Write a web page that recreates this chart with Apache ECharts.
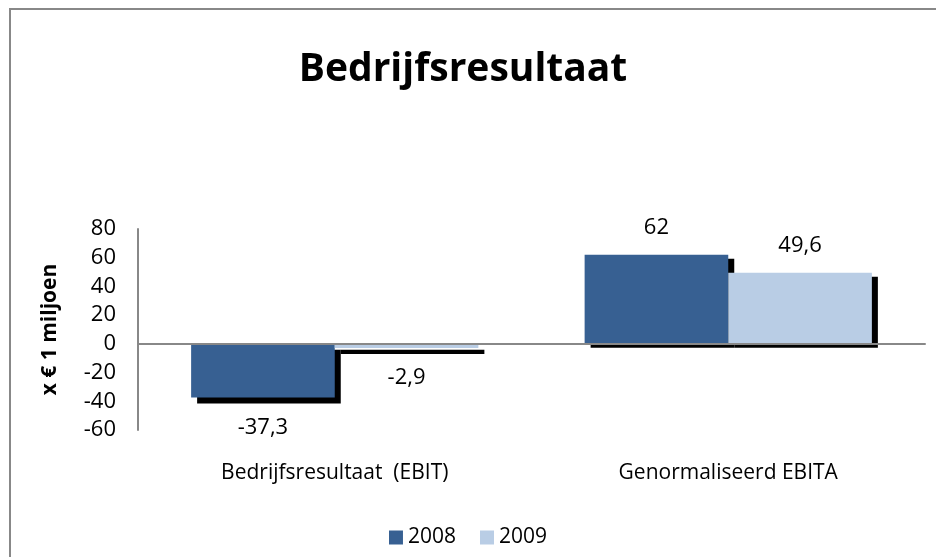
<!DOCTYPE html>
<html>
<head>
<meta charset="utf-8">
<script src="https://cdn.jsdelivr.net/npm/echarts@6/dist/echarts.min.js"></script>
<style>
  html, body { margin: 0; padding: 0; background: #fff; }
  #chart { width: 936px; height: 557px; }
</style>
</head>
<body>
<div id="chart"></div>
<script>
var categories = ['Bedrijfsresultaat  (EBIT)', 'Genormaliseerd EBITA'];
var values2008 = [-37.3, 62];
var values2009 = [-2.9, 49.6];
var yTicks = { min: -60, max: 80, interval: 20 };

var fontName = 'Open Sans';

function commaLabel(p) {
    return String(p.value).replace('.', ',');
}

// negative bars get their label underneath
function toData(arr) {
    return arr.map(function(v) {
        return {
            value: v,
            label: { position: v < 0 ? 'bottom' : 'top', distance: v < 0 ? 19 : 16 },
            itemStyle: { shadowOffsetY: v < 0 ? 6 : 4 }
        };
    });
}

function barSeries(name, arr, color) {
    return {
        name: name,
        type: 'bar',
        barWidth: '36.5%',
        barGap: '0%',
        data: toData(arr),
        itemStyle: {
            color: color,
            shadowColor: '#000',
            shadowBlur: 0,
            shadowOffsetX: 6
        },
        label: {
            show: true,
            color: '#000',
            fontFamily: fontName,
            fontSize: 22,
            formatter: commaLabel
        }
    };
}

var option = {
    animation: false,
    backgroundColor: '#fff',
    title: {
        text: 'Bedrijfsresultaat',
        left: 458,
        top: 45,
        textAlign: 'center',
        textStyle: {
            fontFamily: fontName,
            fontWeight: 'bold',
            fontSize: 39,
            color: '#000'
        }
    },
    legend: {
        bottom: 4,
        left: 'center',
        itemWidth: 14,
        itemHeight: 14,
        itemGap: 24,
        icon: 'rect',
        textStyle: { fontFamily: fontName, fontSize: 21, color: '#000' },
        data: ['2008', '2009']
    },
    graphic: [{
        type: 'rect',
        shape: { x: 10, y: 9, width: 960, height: 600 },
        style: { fill: 'none', stroke: '#888', lineWidth: 2 },
        silent: true
    }],
    grid: {
        left: 138,
        right: 11,
        top: 229,
        bottom: 127
    },
    xAxis: [{
        type: 'category',
        data: categories,
        axisLine: { show: false, onZero: false },
        axisTick: { show: false },
        axisLabel: {
            margin: 33,
            color: '#000',
            fontFamily: fontName,
            fontSize: 21
        }
    }, {
        type: 'category',
        data: categories,
        position: 'bottom',
        z: 5,
        axisLine: { show: true, onZero: true, lineStyle: { color: '#888', width: 2 } },
        axisTick: { show: false },
        axisLabel: { show: false }
    }],
    yAxis: {
        type: 'value',
        min: yTicks.min,
        max: yTicks.max,
        interval: yTicks.interval,
        name: 'x € 1 miljoen',
        nameLocation: 'middle',
        nameRotate: 90,
        nameGap: 77,
        nameTextStyle: {
            fontFamily: fontName,
            fontWeight: 'bold',
            fontSize: 21,
            color: '#000'
        },
        axisLine: { show: true, lineStyle: { color: '#888', width: 2 } },
        axisTick: { show: false },
        splitLine: { show: false },
        axisLabel: {
            margin: 22,
            color: '#000',
            fontFamily: fontName,
            fontSize: 22
        }
    },
    series: [
        barSeries('2008', values2008, '#376092'),
        barSeries('2009', values2009, '#B9CDE5')
    ]
};

var myChart = echarts.init(document.getElementById('chart'));
myChart.setOption(option);
</script>
</body>
</html>
